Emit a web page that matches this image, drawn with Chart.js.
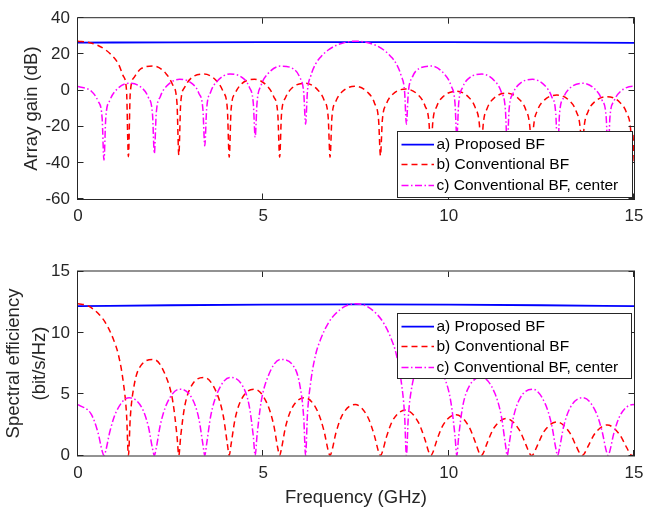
<!DOCTYPE html>
<html>
<head>
<meta charset="utf-8">
<script src="https://cdn.jsdelivr.net/npm/chart.js@4.4.1/dist/chart.umd.min.js"></script>
<style>
  html, body { margin: 0; padding: 0; background: #fff; }
  #wrap { position: relative; width: 657px; height: 509px; }
  canvas { position: absolute; left: 0; }
</style>
</head>
<body>
<div id="wrap">
  <canvas id="gainChart" width="657" height="240" style="top:0"></canvas>
  <canvas id="rateChart" width="657" height="259" style="top:250px"></canvas>
</div>
<script>
// ---- data ----
const seriesLabels = ['a) Proposed BF', 'b) Conventional BF', 'c) Conventional BF, center'];

const freqTicks = [0, 5, 10, 15];
const gainTicks = [-60, -40, -20, 0, 20, 40];
const rateTicks = [0, 5, 10, 15];

// a) proposed BF (almost flat)
const aFreq = [0, 2.5, 5, 7.5, 10, 12.5, 15];
const aGain = [26.5, 26.65, 26.75, 26.8, 26.75, 26.6, 26.4];
const aRate = [12.18, 12.25, 12.3, 12.32, 12.3, 12.25, 12.17];

// b) conventional BF (peak at 0 GHz)
const bFreq = [0, 0.27, 0.54, 0.75, 0.95, 1.09, 1.22, 1.31, 1.36,
  1.41, 1.52, 1.70, 2.04, 2.38, 2.56, 2.67, 2.72,
  2.77, 2.88, 3.06, 3.40, 3.74, 3.92, 4.03, 4.08,
  4.13, 4.24, 4.42, 4.76, 5.10, 5.28, 5.39, 5.44,
  5.49, 5.60, 5.78, 6.12, 6.46, 6.64, 6.75, 6.80,
  6.85, 6.96, 7.14, 7.48, 7.82, 8.00, 8.11, 8.16,
  8.21, 8.32, 8.50, 8.84, 9.18, 9.36, 9.47, 9.52,
  9.57, 9.68, 9.86, 10.20, 10.54, 10.72, 10.83, 10.88,
  10.93, 11.04, 11.22, 11.56, 11.90, 12.08, 12.19, 12.24,
  12.29, 12.40, 12.58, 12.92, 13.26, 13.44, 13.55, 13.60,
  13.65, 13.76, 13.94, 14.28, 14.62, 14.80, 14.91, 14.96,
  15.00];
const bGain = [27.3, 26.7, 24.9, 22.4, 18.6, 14.7, 8.1, -0.3, -36.6,
  -1.3, 7.4, 12.1, 13.5, 9.2, 2.9, -6.8, -35.7,
  -7.2, 1.9, 7.0, 9.1, 5.3, -0.8, -10.4, -36.9,
  -10.6, -1.5, 3.8, 6.2, 2.6, -3.4, -12.9, -36.9,
  -13.1, -3.9, 1.5, 4.0, 0.5, -5.4, -14.9, -36.9,
  -15.0, -5.8, -0.4, 2.3, -1.1, -7.0, -16.5, -36.0,
  -16.6, -7.4, -1.9, 0.8, -2.5, -8.4, -17.8, -36.0,
  -17.9, -8.7, -3.2, -0.4, -3.7, -9.6, -19.0, -36.0,
  -19.1, -9.8, -4.3, -1.5, -4.8, -10.6, -20.0, -36.0,
  -20.1, -10.8, -5.3, -2.5, -5.7, -11.5, -21.0, -37.0,
  -21.0, -11.7, -6.2, -3.4, -6.6, -12.4, -21.8, -40.2,
  -24.3];
const bRate = [12.38, 12.20, 11.59, 10.78, 9.51, 8.21, 6.02, 3.34, 0,
  3.07, 5.81, 7.35, 7.83, 6.39, 4.36, 1.62, 0,
  1.55, 4.03, 5.68, 6.36, 5.11, 3.22, 0.93, 0,
  0.90, 3.01, 4.64, 5.41, 4.25, 2.48, 0.59, 0,
  0.57, 2.34, 3.91, 4.71, 3.62, 1.96, 0.40, 0,
  0.39, 1.86, 3.35, 4.15, 3.12, 1.58, 0.29, 0,
  0.28, 1.50, 2.91, 3.70, 2.72, 1.30, 0.22, 0,
  0.22, 1.24, 2.54, 3.33, 2.39, 1.08, 0.17, 0,
  0.17, 1.03, 2.24, 3.01, 2.11, 0.91, 0.14, 0,
  0.14, 0.87, 1.99, 2.73, 1.88, 0.77, 0.11, 0,
  0.11, 0.74, 1.77, 2.49, 1.68, 0.66, 0.09, 0,
  0.05];

// c) conventional BF steered to the band centre (peak at 7.5 GHz)
const cFreq = [0, 0.36, 0.54, 0.65, 0.70,
  0.75, 0.86, 1.04, 1.38, 1.72, 1.90, 2.01, 2.06,
  2.11, 2.22, 2.40, 2.74, 3.08, 3.26, 3.37, 3.42,
  3.47, 3.58, 3.76, 4.10, 4.44, 4.62, 4.73, 4.78,
  4.83, 4.94, 5.12, 5.46, 5.80, 5.98, 6.09, 6.14,
  6.19, 6.28, 6.41, 6.55, 6.75, 6.96, 7.23, 7.50, 7.77, 8.04, 8.25, 8.45, 8.59, 8.72, 8.81, 8.86,
  8.91, 9.02, 9.20, 9.54, 9.88, 10.06, 10.17, 10.22,
  10.27, 10.38, 10.56, 10.90, 11.24, 11.42, 11.53, 11.58,
  11.63, 11.74, 11.92, 12.26, 12.60, 12.78, 12.89, 12.94,
  12.99, 13.10, 13.28, 13.62, 13.96, 14.14, 14.25, 14.30,
  14.35, 14.46, 14.64, 14.98, 15.00];
const cGain = [2.2, -0.4, -5.8, -15.0, -38.4,
  -14.9, -5.4, 0.5, 4.0, 1.5, -3.9, -13.1, -34.8,
  -12.9, -3.4, 2.6, 6.2, 3.8, -1.5, -10.6, -30.6,
  -10.4, -0.8, 5.3, 9.1, 7.0, 1.9, -7.2, -25.8,
  -6.8, 2.9, 9.2, 13.5, 12.1, 7.4, -1.3, -18.6,
  -0.3, 8.1, 14.7, 18.6, 22.4, 24.9, 26.7, 27.3, 26.7, 24.9, 22.4, 18.6, 14.7, 8.1, -0.3, -18.6,
  -1.3, 7.4, 12.1, 13.5, 9.2, 2.9, -6.8, -25.8,
  -7.2, 1.9, 7.0, 9.1, 5.3, -0.8, -10.4, -30.6,
  -10.6, -1.5, 3.8, 6.2, 2.6, -3.4, -12.9, -34.8,
  -13.1, -3.9, 1.5, 4.0, 0.5, -5.4, -14.9, -38.4,
  -15.0, -5.8, -0.4, 2.3, 2.2];
const cRate = [4.15, 3.35, 1.86, 0.39, 0,
  0.40, 1.96, 3.62, 4.71, 3.91, 2.34, 0.57, 0,
  0.59, 2.48, 4.25, 5.41, 4.64, 3.01, 0.90, 0,
  0.93, 3.22, 5.11, 6.36, 5.68, 4.03, 1.55, 0,
  1.62, 4.36, 6.39, 7.83, 7.35, 5.81, 3.07, 0,
  3.34, 6.02, 8.21, 9.51, 10.78, 11.59, 12.20, 12.38, 12.20, 11.59, 10.78, 9.51, 8.21, 6.02, 3.34, 0,
  3.07, 5.81, 7.35, 7.83, 6.39, 4.36, 1.62, 0,
  1.55, 4.03, 5.68, 6.36, 5.11, 3.22, 0.93, 0,
  0.90, 3.01, 4.64, 5.41, 4.25, 2.48, 0.59, 0,
  0.57, 2.34, 3.91, 4.71, 3.62, 1.96, 0.40, 0,
  0.39, 1.86, 3.35, 4.15, 4.14];

// ---- styling ----
const FONT = '"Liberation Sans", Arial, Helvetica, sans-serif';
const AX = '#262626';
Chart.defaults.font.family = FONT;
Chart.defaults.color = AX;

const pts = (xs, ys) => xs.map((x, i) => ({ x: x, y: ys[i] }));

function makeSets(aY, bY, cY) {
  return [
    { label: seriesLabels[0], data: pts(aFreq, aY), borderColor: '#0000ff', borderWidth: 1.8, order: 2 },
    { label: seriesLabels[1], data: pts(bFreq, bY), borderColor: '#ff0000', borderWidth: 1.5, borderDash: [6, 4], order: 1 },
    { label: seriesLabels[2], data: pts(cFreq, cY), borderColor: '#ff00ff', borderWidth: 1.5, borderDash: [7, 2.5, 1.5, 2.5], order: 0 }
  ];
}

// box, inward ticks and boxed legend, MATLAB style
const matlabAxes = {
  id: 'matlabAxes',
  afterDatasetsDraw(chart) {
    const { ctx, chartArea: a, scales } = chart;
    ctx.save();
    ctx.strokeStyle = AX;
    ctx.lineWidth = 1;
    ctx.setLineDash([]);
    ctx.strokeRect(a.left - 0.5, a.top - 0.5, a.right - a.left + 1, a.bottom - a.top + 1);
    const L = 5.5;
    ctx.beginPath();
    scales.x.ticks.forEach(t => {
      const px = Math.round(scales.x.getPixelForValue(t.value)) - 0.5;
      ctx.moveTo(px, a.bottom); ctx.lineTo(px, a.bottom - L);
      ctx.moveTo(px, a.top); ctx.lineTo(px, a.top + L);
    });
    scales.y.ticks.forEach(t => {
      const py = Math.round(scales.y.getPixelForValue(t.value)) - 0.5;
      ctx.moveTo(a.left, py); ctx.lineTo(a.left + L, py);
      ctx.moveTo(a.right, py); ctx.lineTo(a.right - L, py);
    });
    ctx.stroke();
    ctx.restore();
  },
  afterDraw(chart, args, opts) {
    const box = opts.box;
    if (!box) return;
    const ctx = chart.ctx;
    ctx.save();
    ctx.fillStyle = '#fff';
    ctx.fillRect(box.left, box.top, box.width, box.height);
    ctx.strokeStyle = AX;
    ctx.lineWidth = 1;
    ctx.strokeRect(box.left + 0.5, box.top + 0.5, box.width, box.height);
    const rows = [13.7, 33.4, 54.6];
    chart.data.datasets.forEach((ds, i) => {
      const y = box.top + rows[i];
      ctx.beginPath();
      ctx.strokeStyle = ds.borderColor;
      ctx.lineWidth = ds.borderWidth;
      ctx.setLineDash(ds.borderDash || []);
      ctx.moveTo(box.left + 4.5, y);
      ctx.lineTo(box.left + 37, y);
      ctx.stroke();
      ctx.setLineDash([]);
      ctx.fillStyle = '#000';
      ctx.font = '15.5px ' + FONT;
      ctx.textBaseline = 'middle';
      ctx.textAlign = 'left';
      ctx.fillText(ds.label, box.left + 39.5, y);
    });
    ctx.restore();
  }
};

function setTicks(values) {
  return scale => { scale.ticks = values.map(v => ({ value: v })); };
}

function baseOptions(opt) {
  return {
    responsive: false,
    animation: false,
    devicePixelRatio: 1,
    layout: { padding: { top: opt.padTop, right: 23, left: 0, bottom: 0 } },
    elements: {
      point: { radius: 0 },
      line: { cubicInterpolationMode: 'monotone', fill: false }
    },
    plugins: {
      legend: { display: false },
      tooltip: { enabled: false },
      matlabAxes: { box: opt.legendBox }
    },
    scales: {
      x: {
        type: 'linear', min: 0, max: 15,
        afterBuildTicks: setTicks(freqTicks),
        afterFit: s => { s.height = opt.xHeight; },
        grid: { display: false, drawTicks: false },
        border: { display: false },
        ticks: { padding: opt.xTickPad, color: AX, font: { size: 17 } },
        title: opt.xTitle
      },
      y: {
        type: 'linear', min: opt.yMin, max: opt.yMax,
        afterBuildTicks: setTicks(opt.yTicks),
        afterFit: s => { s.width = 78; },
        grid: { display: false, drawTicks: false },
        border: { display: false },
        ticks: { padding: 8, color: AX, font: { size: 17 } },
        title: opt.yTitle
      }
    }
  };
}

new Chart(document.getElementById('gainChart'), {
  type: 'line',
  data: { datasets: makeSets(aGain, bGain, cGain) },
  options: baseOptions({
    padTop: 13, xHeight: 41, xTickPad: 7,
    yMin: -60, yMax: 40, yTicks: gainTicks,
    xTitle: { display: false },
    yTitle: { display: true, text: 'Array gain (dB)', color: AX, font: { size: 18.5 }, padding: { top: 21, bottom: 0 } },
    legendBox: { left: 397, top: 131, width: 235, height: 66 }
  }),
  plugins: [matlabAxes]
});

new Chart(document.getElementById('rateChart'), {
  type: 'line',
  data: { datasets: makeSets(aRate, bRate, cRate) },
  options: baseOptions({
    padTop: 21.5, xHeight: 53.5, xTickPad: 8,
    yMin: 0, yMax: 15, yTicks: rateTicks,
    xTitle: { display: true, text: 'Frequency (GHz)', color: AX, font: { size: 18.5 }, padding: { top: 0, bottom: 0 } },
    yTitle: { display: true, text: ['Spectral efficiency', '(bit/s/Hz)'], color: AX, font: { size: 18.5, lineHeight: 1.45 }, padding: { top: 0, bottom: 0 } },
    legendBox: { left: 397, top: 63, width: 234, height: 65 }
  }),
  plugins: [matlabAxes]
});
</script>
</body>
</html>
